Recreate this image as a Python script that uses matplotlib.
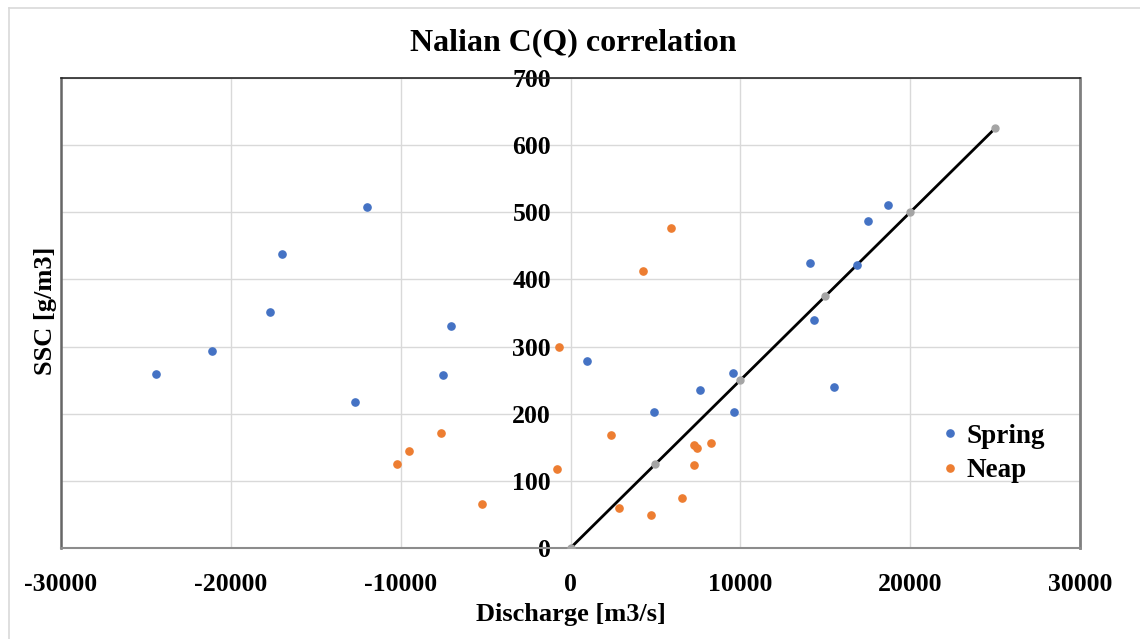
import matplotlib
matplotlib.use("Agg")
import matplotlib.pyplot as plt
from matplotlib.lines import Line2D

# Spring tide samples: discharge [m3/s] and suspended sediment concentration [g/m3]
spring_q = [-24400, -21100, -17700, -17000, -12700, -12000, -7500, -7050,
            1000, 4900, 7650, 9550, 9650, 14100, 14350, 15500, 16850, 17500, 18700]
spring_ssc = [259, 293, 351, 438, 217, 508, 257, 330,
              279, 202, 235, 260, 203, 425, 340, 240, 422, 487, 511]

# Neap tide samples
neap_q = [-10200, -9500, -7600, -5200, -800, -700,
          2400, 2850, 4250, 4750, 5900, 6550, 7300, 7300, 7450, 8250]
neap_ssc = [125, 144, 171, 66, 118, 299,
            168, 60, 413, 49, 477, 74, 153, 124, 149, 156]

# Rating line C = 0.025 Q
fit_q = [0, 5000, 10000, 15000, 20000, 25000]
fit_ssc = [0, 125, 250, 375, 500, 625]

x_ticks = [-30000, -20000, -10000, 0, 10000, 20000, 30000]
y_ticks = [0, 100, 200, 300, 400, 500, 600, 700]

plt.rcParams["font.family"] = ["Liberation Serif", "DejaVu Serif"]
plt.rcParams["font.weight"] = "bold"
plt.rcParams["axes.unicode_minus"] = False

W, H = 1140, 639
fig = plt.figure(figsize=(W / 100, H / 100), dpi=100)
ax = fig.add_axes([61 / W, 1 - 548 / H, (1080 - 61) / W, (548 - 78) / H])

ax.set_xlim(-30000, 30000)
ax.set_ylim(0, 700)
ax.set_xticks(x_ticks)
ax.set_yticks(y_ticks)
ax.grid(True, color="#d9d9d9", linewidth=1.0)
ax.set_axisbelow(True)

# value axis crosses at Q = 0
ax.spines["left"].set_position(("data", 0))
ax.spines["left"].set_visible(False)
ax.spines["top"].set_color("#262626")
ax.spines["top"].set_linewidth(1.2)
ax.spines["right"].set_color("#7f7f7f")
ax.spines["right"].set_linewidth(2.0)
ax.spines["bottom"].set_color("#8c8c8c")
ax.spines["bottom"].set_linewidth(1.5)
ax.add_artist(Line2D([0, 0], [0, 1], transform=ax.transAxes, color="#666666",
                     linewidth=1.8, clip_on=False))

ax.tick_params(axis="both", length=0, labelsize=18.5)
ax.tick_params(axis="x", pad=18)
ax.tick_params(axis="y", pad=14)
for lab in ax.get_xticklabels() + ax.get_yticklabels():
    lab.set_fontweight("bold")

ax.plot(fit_q, fit_ssc, color="black", linewidth=2.0, marker="o",
        markersize=5, markerfacecolor="#a5a5a5", markeredgecolor="#a5a5a5", zorder=3)
ax.plot(spring_q, spring_ssc, linestyle="none", marker="o", markersize=5.2,
        color="#4472c4", label="Spring", zorder=4)
ax.plot(neap_q, neap_ssc, linestyle="none", marker="o", markersize=5.2,
        color="#ed7d31", label="Neap", zorder=4)

ax.set_title("Nalian C(Q) correlation", fontsize=23, fontweight="bold", pad=20, x=0.503)
ax.set_xlabel("Discharge [m3/s]", fontsize=19, fontweight="bold", labelpad=5)
ax.set_ylabel("SSC [g/m3]", fontsize=19, fontweight="bold", labelpad=0)
ax.yaxis.set_label_coords(-0.004, 0.504)

ax.legend(loc="center left", bbox_to_anchor=(0.846, 0.2016), frameon=False,
          prop={"weight": "bold", "size": 19.5},
          handletextpad=0.1, handlelength=1.0, labelspacing=0.35, borderpad=0)

# light outline of the chart area
fig.add_artist(Line2D([9 / W, 9 / W], [0, 1 - 8 / H], transform=fig.transFigure,
                      color="#d9d9d9", linewidth=1.2))
fig.add_artist(Line2D([9 / W, 1], [1 - 8 / H, 1 - 8 / H], transform=fig.transFigure,
                      color="#d9d9d9", linewidth=1.2))

fig.savefig("out.png", dpi=100, facecolor="white")
